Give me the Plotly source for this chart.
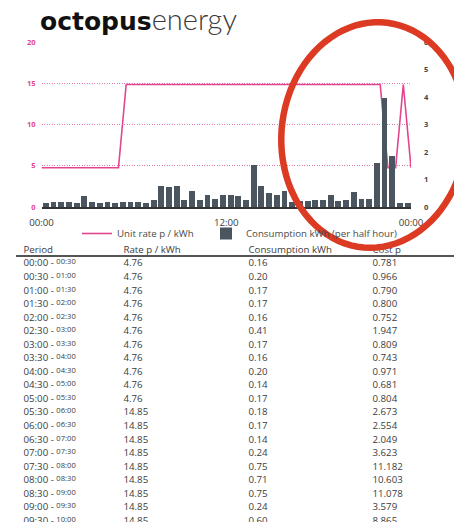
import numpy as np
import pandas as pd
import plotly.graph_objects as go

# ── data ──────────────────────────────────────────────────────────────────────
slot_start = pd.date_range("2020-01-01 00:00", periods=48, freq="30min")
rate_times = pd.date_range("2020-01-01 00:00", periods=49, freq="30min")

consumption_kwh = [
    0.16, 0.20, 0.17, 0.17, 0.16, 0.41, 0.17, 0.16, 0.20, 0.14,
    0.17, 0.18, 0.17, 0.14, 0.24, 0.75, 0.71, 0.75, 0.24, 0.60,
    0.25, 0.42, 0.30, 0.42, 0.42, 0.39, 0.24, 1.53, 0.75, 0.50,
    0.45, 0.59, 0.19, 0.21, 0.22, 0.26, 0.27, 0.42, 0.22, 0.25,
    0.56, 0.30, 0.30, 1.60, 3.98, 1.86, 0.16, 0.16,
]
unit_rate = [4.76] * 11 + [14.85] * 34 + [4.76, 4.76, 14.85, 4.76]

table_header = ["Period", "Rate p / kWh", "Consumption kWh", "Cost p"]
period_from = ["00:00", "00:30", "01:00", "01:30", "02:00", "02:30", "03:00", "03:30",
               "04:00", "04:30", "05:00", "05:30", "06:00", "06:30", "07:00", "07:30",
               "08:00", "08:30", "09:00", "09:30"]
period_to = ["00:30", "01:00", "01:30", "02:00", "02:30", "03:00", "03:30", "04:00",
             "04:30", "05:00", "05:30", "06:00", "06:30", "07:00", "07:30", "08:00",
             "08:30", "09:00", "09:30", "10:00"]
table_rate = [4.76] * 11 + [14.85] * 9
table_kwh = [0.16, 0.20, 0.17, 0.17, 0.16, 0.41, 0.17, 0.16, 0.20, 0.14,
             0.17, 0.18, 0.17, 0.14, 0.24, 0.75, 0.71, 0.75, 0.24, 0.60]
table_cost = [0.781, 0.966, 0.790, 0.800, 0.752, 1.947, 0.809, 0.743, 0.971, 0.681,
              0.804, 2.673, 2.554, 2.049, 3.623, 11.182, 10.603, 11.078, 3.579, 8.865]

# ── layout helpers: page pixels -> paper (page body has an 8px margin) ───────
OFF = 8
FW, FH = 462 - OFF, 530 - 2 * OFF
def px_x(x): return (x - OFF) / FW
def px_y(y): return 1 - (y - OFF) / FH

PL, PR, PT, PB = 41.5, 411, 42, 207
PINK = "#e2468e"
BAR = "#4b5560"
TXT = "#3c3c3c"
FONT = "Open Sans"
LEG_FONT = dict(family=FONT, size=9.7, color="#4a4a4a")

fig = go.Figure()

fig.add_trace(go.Bar(
    x=slot_start, y=consumption_kwh, name="Consumption kWh (per half hour)",
    xperiod=1800000, xperiodalignment="middle", width=1800000 * 0.76,
    marker=dict(color=BAR, line_width=0), yaxis="y2", legend="legend2",
))
fig.add_trace(go.Scatter(
    x=rate_times, y=unit_rate, name="Unit rate p / kWh", mode="lines",
    line=dict(color=PINK, width=1.6), legend="legend",
))

# table drawn as text on its own hidden axes
col_left = [px - OFF for px in (23.5, 123.5, 248.5, 372.5)]
fig.add_trace(go.Scatter(
    x=col_left, y=[-1] * 4, text=table_header, mode="text",
    textposition="middle right", textfont=dict(family=FONT, size=9.7, color=TXT),
    xaxis="x3", yaxis="y3", showlegend=False, hoverinfo="skip",
))
rows = list(range(len(period_from)))
columns = [
    [f"{a} - <span style='font-size:7.6px;baseline-shift:2px'>{b}</span>"
     for a, b in zip(period_from, period_to)],
    [f"{v:.2f}" for v in table_rate],
    [f"{v:.2f}" for v in table_kwh],
    [f"{v:.3f}" for v in table_cost],
]
for cx, col in zip(col_left, columns):
    fig.add_trace(go.Scatter(
        x=[cx] * len(rows), y=rows, text=col, mode="text",
        textposition="middle right", textfont=dict(family=FONT, size=9.7, color=TXT),
        xaxis="x3", yaxis="y3", showlegend=False, hoverinfo="skip",
    ))

# red hand-drawn ellipse
t = np.linspace(0, 2 * np.pi, 90)
cx, cy, ax_, ay_, rot = 374, 135, 92.5, 113, np.deg2rad(6)
ex = cx + ax_ * np.cos(t) * np.cos(rot) - ay_ * np.sin(t) * np.sin(rot)
ey = cy + ax_ * np.cos(t) * np.sin(rot) + ay_ * np.sin(t) * np.cos(rot)
ell_path = "M " + " L ".join(f"{px_x(a):.4f},{px_y(b):.4f}" for a, b in zip(ex, ey)) + " Z"

row_h = 13.55
tbl_top, tbl_bot = 240, 522
fig.update_layout(
    width=FW, height=FH, margin=dict(l=0, r=0, t=0, b=0, autoexpand=False),
    paper_bgcolor="white", plot_bgcolor="white",
    showlegend=True,
    legend=dict(orientation="h", x=px_x(77), y=px_y(219), xanchor="left", yanchor="top",
                font=LEG_FONT, bgcolor="rgba(0,0,0,0)"),
    legend2=dict(orientation="h", x=px_x(206), y=px_y(219), xanchor="left", yanchor="top",
                 font=LEG_FONT, bgcolor="rgba(0,0,0,0)"),
    xaxis=dict(domain=[px_x(PL), px_x(PR)], range=[rate_times[0], rate_times[-1]],
               type="date", dtick=43200000, tickformat="%H:%M", showgrid=False,
               ticks="", showline=True, linecolor="#333", linewidth=1.5,
               tickfont=dict(family=FONT, size=9.7, color=TXT), ticklabelstandoff=6,
               anchor="y", zeroline=False, automargin=False),
    xaxis2=dict(overlaying="x", anchor="y", range=[0, (PR - PL) / 78.6],
                tickvals=[0, 1, 2, 3, 4], showticklabels=False, showgrid=True,
                gridcolor="#8f8f8f", griddash="1px,1.5px", gridwidth=1,
                ticks="outside", ticklen=5, tickcolor="#333", zeroline=False,
                automargin=False),
    yaxis=dict(domain=[px_y(PB), px_y(PT)], range=[0, 20], tickvals=[0, 5, 10, 15, 20],
               gridcolor="#e47bb3", griddash="1px,1.5px", gridwidth=1, zeroline=False,
               tickfont=dict(family=FONT, size=7.5, color=PINK, weight="bold"),
               ticklabelstandoff=5, automargin=False),
    yaxis2=dict(overlaying="y", side="right", range=[0, 6], dtick=1, showgrid=False,
                zeroline=False, tickfont=dict(family=FONT, size=7.5, color="#444", weight="bold"),
                ticklabelstandoff=12, automargin=False),
    xaxis3=dict(domain=[0, 1], range=[0, FW], visible=False, anchor="y3", fixedrange=True),
    yaxis3=dict(domain=[px_y(tbl_bot), px_y(tbl_top)],
                range=[(tbl_bot - 264) / row_h, (tbl_top - 264) / row_h],
                visible=False, anchor="x3", fixedrange=True),
    bargap=0,
    shapes=[
        dict(type="line", xref="paper", yref="paper", x0=px_x(16), x1=px_x(454),
             y0=px_y(256), y1=px_y(256), line=dict(color="#555", width=1.8)),
        dict(type="line", xref="paper", yref="paper", x0=px_x(455), x1=px_x(455),
             y0=0, y1=1, line=dict(color="#d4d4d4", width=1)),
        dict(type="path", xref="paper", yref="paper", path=ell_path,
             line=dict(color="#dc3a22", width=6.5), layer="above"),
    ],
    annotations=[
        dict(xref="paper", yref="paper", x=px_x(38), y=px_y(37.5), xanchor="left",
             yanchor="bottom", showarrow=False,
             text="<span style='font-family:DejaVu Sans;font-weight:bold;font-size:25px'>octopus</span>"
                  "<span style='font-weight:300;fill:#3a3a3a'>energy</span>",
             font=dict(family="Lato", size=29, color="#111")),
    ],
)

fig.write_html("out.html")
